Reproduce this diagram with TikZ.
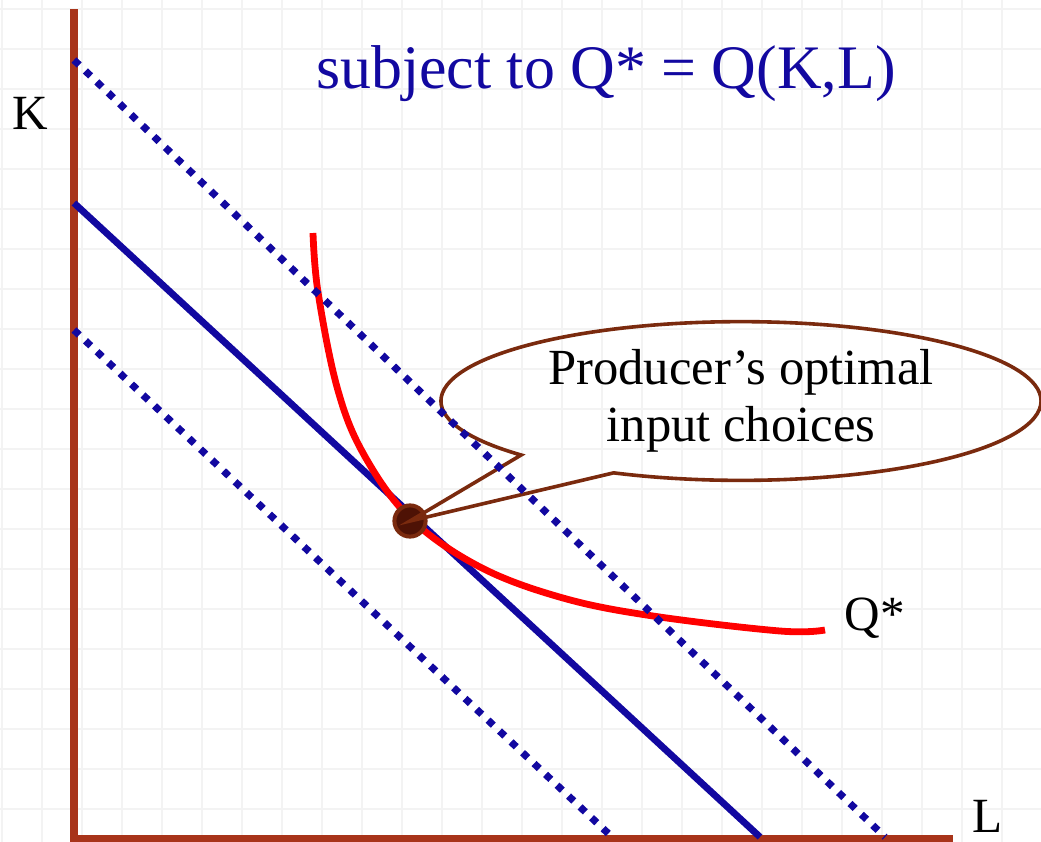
\documentclass[tikz,border=0pt]{standalone}
\usepackage{fontspec}
\setmainfont{Liberation Serif}
\usetikzlibrary{shapes.callouts}
\definecolor{AxisRust}{HTML}{A8341A}
\definecolor{BudgetBlue}{HTML}{1208A0}
\definecolor{CalloutBrown}{HTML}{7A2A0E}
\definecolor{DotBrown}{HTML}{4E1205}
\definecolor{GridGray}{HTML}{F3F3F3}
\tikzset{
  gridline/.style={draw=GridGray, line width=0.05cm},
  axisline/.style={draw=AxisRust, line width=0.2cm, line join=miter},
  budget/.style={draw=BudgetBlue, line width=0.17cm},
  budgetdots/.style={draw=BudgetBlue, line width=0.18cm, dash pattern=on 0.18cm off 0.215cm},
  isoquant/.style={draw=red, line width=0.17cm},
  axislabel/.style={font=\fontsize{35}{40}\selectfont, anchor=base, inner sep=0pt},
  optpoint/.style={circle, draw=CalloutBrown, fill=DotBrown, line width=0.1cm, minimum size=0.78cm, inner sep=0pt},
  notebubble/.style={ellipse callout, draw=CalloutBrown, line width=0.09cm, minimum width=15cm, minimum height=3.55cm, callout pointer arc=22, align=center, font=\fontsize{36}{40.5}\selectfont}
}

\begin{document}
\begin{tikzpicture}[x=0.025cm,y=-0.025cm]
\useasboundingbox (0,0) rectangle (1041,842);

% faint background grid
\foreach \gx in {2,42,...,1002} \draw[gridline] (\gx,0) -- (\gx,842);
\foreach \gy in {9,49,...,809} \draw[gridline] (0,\gy) -- (1041,\gy);

% axes
\draw[axisline] (74,9) -- (74,839) -- (953,839);
\node[axislabel] (klab) at (30,129) {K};
\node[axislabel] (llab) at (988,832) {L};

\node[font=\fontsize{44}{50}\selectfont, text=BudgetBlue, anchor=base, inner sep=0pt] (title) at (606,88) {subject to Q* = Q(K,L)};

% isocost line and isoquant
\draw[budget] (74,203) -- (760,837);
\draw[isoquant] plot[smooth, tension=0.6] coordinates {(313,233) (318,292) (337,387) (363,453) (410,518) (480,567) (563,598) (653,616) (780,631) (825,630)};
\node[axislabel] (qlab) at (875,630) {Q*};

\node[optpoint] (opt) at (410,521) {};
\node[notebubble, callout absolute pointer={(opt.center)}] (note) at (741,401) {Producer’s optimal\\input choices};

% higher and lower isocost lines
\draw[budgetdots] (74,60) -- (885,837);
\draw[budgetdots] (74,330) -- (612,837);
\end{tikzpicture}
\end{document}
